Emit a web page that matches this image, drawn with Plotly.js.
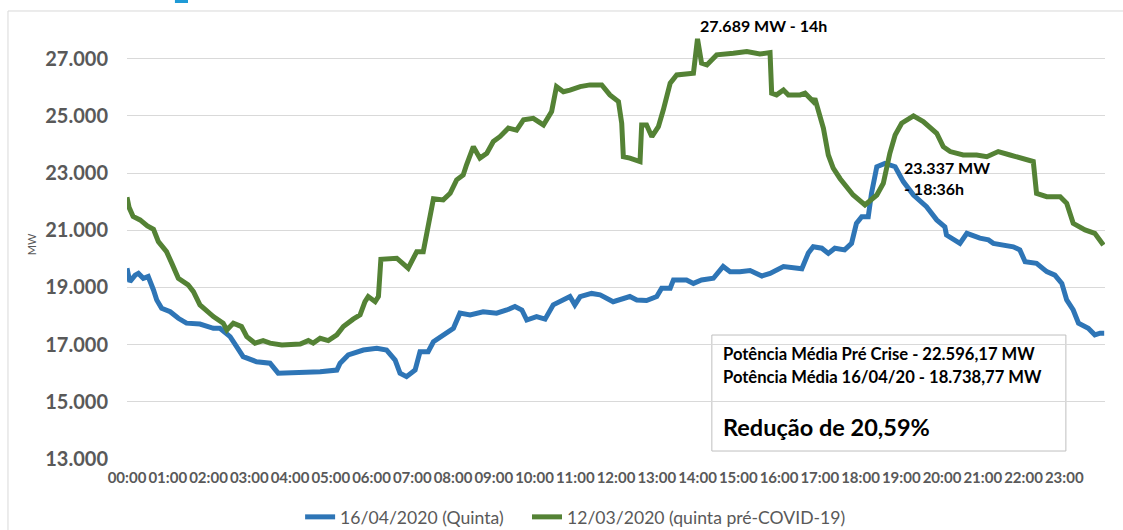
<!DOCTYPE html>
<html><head><meta charset="utf-8">
<script src="https://cdn.plot.ly/plotly-3.0.1.min.js"></script>
<style>html,body{margin:0;padding:0;background:#fff;}#chart{width:1123px;height:530px;}</style>
</head><body><div id="chart"></div>
<script>
// 16/04/2020 (Quinta) — hours of day and MW
const hoursApr16 = [0.00,0.07,0.20,0.28,0.40,0.52,0.65,0.73,0.85,1.06,1.26,1.46,1.79,2.12,2.28,2.53,2.69,2.85,3.18,3.51,3.71,4.08,4.41,4.74,5.15,5.23,5.43,5.80,6.13,6.37,6.58,6.70,6.86,7.07,7.19,7.39,7.52,7.80,8.01,8.17,8.42,8.74,9.07,9.32,9.52,9.69,9.81,10.05,10.26,10.46,10.71,10.87,10.99,11.12,11.40,11.61,11.93,12.10,12.34,12.51,12.75,13.00,13.12,13.33,13.41,13.73,13.90,14.10,14.39,14.63,14.80,15.04,15.29,15.58,15.78,16.11,16.43,16.56,16.72,16.84,17.05,17.21,17.37,17.61,17.78,17.90,18.03,18.19,18.27,18.40,18.60,18.85,19.05,19.30,19.62,19.87,20.07,20.11,20.44,20.61,20.93,21.14,21.26,21.75,21.91,22.04,22.32,22.57,22.77,22.94,23.06,23.22,23.35,23.59,23.75,23.88,23.98];
const mwApr16 = [19670,19200,19430,19490,19320,19380,18910,18560,18270,18150,17920,17750,17720,17570,17570,17280,16930,16580,16400,16350,16000,16020,16000,16050,16110,16350,16640,16810,16870,16810,16460,16000,15880,16110,16750,16750,17100,17340,17570,18100,18040,18150,18100,18210,18330,18210,17860,17980,17890,18390,18590,18680,18390,18680,18790,18740,18500,18560,18680,18560,18540,18680,18970,18970,19260,19260,19140,19260,19320,19730,19550,19550,19590,19400,19490,19730,19700,19650,20200,20420,20370,20190,20370,20310,20540,21240,21470,21470,22290,23220,23337,23220,22700,22230,21820,21360,21120,20830,20540,20890,20720,20660,20540,20420,20310,19900,19840,19550,19430,19140,18560,18210,17750,17570,17340,17400,17400];

// 12/03/2020 (quinta pré-COVID-19) — hours of day and MW
const hoursMar12 = [0.00,0.05,0.15,0.32,0.50,0.65,0.77,0.97,1.10,1.26,1.50,1.63,1.79,2.12,2.36,2.45,2.61,2.81,2.94,3.14,3.34,3.51,3.80,4.25,4.45,4.57,4.74,4.94,5.15,5.31,5.55,5.72,5.84,5.92,6.09,6.17,6.23,6.62,6.90,7.11,7.27,7.39,7.52,7.76,7.93,8.09,8.25,8.33,8.50,8.66,8.83,8.99,9.15,9.36,9.56,9.73,9.97,10.22,10.42,10.54,10.71,10.87,11.12,11.36,11.65,11.85,12.06,12.14,12.18,12.34,12.59,12.63,12.75,12.88,13.04,13.16,13.33,13.49,13.90,14.00,14.10,14.23,14.47,14.88,15.21,15.53,15.78,15.82,15.94,16.11,16.23,16.52,16.64,16.84,16.88,17.09,17.21,17.33,17.50,17.82,18.11,18.40,18.56,18.72,18.85,19.01,19.30,19.54,19.87,20.03,20.20,20.52,20.85,21.10,21.38,21.67,21.91,22.24,22.32,22.57,22.90,23.06,23.22,23.51,23.75,23.96];
const mwMar12 = [22150,21800,21480,21360,21150,21030,20600,20250,19840,19320,19090,18850,18390,17980,17750,17510,17750,17630,17280,17050,17140,17050,16990,17020,17140,17050,17220,17140,17340,17630,17890,18040,18500,18680,18500,18680,19980,20020,19670,20250,20250,21240,22100,22060,22290,22760,22930,23280,23920,23520,23690,24100,24270,24570,24500,24860,24910,24680,25150,26020,25840,25900,26020,26080,26080,25730,25500,24740,23570,23520,23400,24680,24680,24270,24620,25200,26140,26430,26490,27689,26840,26780,27130,27190,27250,27160,27210,25790,25730,25900,25730,25730,25790,25500,25610,24560,23630,23170,22800,22230,21880,22230,22640,23690,24330,24740,25000,24800,24390,23920,23750,23630,23630,23570,23750,23630,23520,23400,22290,22170,22170,21940,21240,21010,20890,20480];

const seriesNames = ['16/04/2020 (Quinta)', '12/03/2020 (quinta pré-COVID-19)'];
const xTickVals = [0,1,2,3,4,5,6,7,8,9,10,11,12,13,14,15,16,17,18,19,20,21,22,23];
const xTickText = ['00:00','01:00','02:00','03:00','04:00','05:00','06:00','07:00','08:00','09:00','10:00','11:00','12:00','13:00','14:00','15:00','16:00','17:00','18:00','19:00','20:00','21:00','22:00','23:00'];
const yTickVals = [13000,15000,17000,19000,21000,23000,25000,27000];
const yTickText = ['13.000','15.000','17.000','19.000','21.000','23.000','25.000','27.000'];
const peakPre = {hour: 14, mw: 27689, label: '27.689 MW - 14h'};
const peakApr = {hour: 18.6, mw: 23337, label: '23.337 MW<br>- 18:36h'};
const boxLines = ['Potência Média Pré Crise - 22.596,17 MW', 'Potência Média 16/04/20 - 18.738,77 MW', 'Redução de 20,59%'];

const FONT = 'Lato, "Open Sans", sans-serif';
const GREY = '#595959';

const traces = [
  {x: hoursApr16, y: mwApr16, name: seriesNames[0], type: 'scatter', mode: 'lines',
   line: {color: '#2e75b6', width: 5}, legend: 'legend'},
  {x: hoursMar12, y: mwMar12, name: seriesNames[1], type: 'scatter', mode: 'lines',
   line: {color: '#548235', width: 5}, legend: 'legend2'}
];

const legendFont = {family: FONT, size: 17.6, color: GREY};

const layout = {
  width: 1123, height: 530,
  margin: {l: 127, r: 18, t: 30, b: 71, autoexpand: false},
  paper_bgcolor: '#ffffff', plot_bgcolor: '#ffffff',
  font: {family: FONT, color: GREY},
  showlegend: true,
  legend: {orientation: 'h', x: 0.177, xanchor: 'left', y: -0.135, yanchor: 'middle',
           font: legendFont, bgcolor: 'rgba(0,0,0,0)'},
  legend2: {orientation: 'h', x: 0.409, xanchor: 'left', y: -0.135, yanchor: 'middle',
           font: legendFont, bgcolor: 'rgba(0,0,0,0)'},
  xaxis: {range: [0, 24], tickvals: xTickVals, ticktext: xTickText, showgrid: false,
          zeroline: false, showline: false, ticks: '', ticklabelstandoff: 8,
          tickfont: {family: FONT, size: 15, color: GREY, weight: 'bold'}, tickangle: 0, automargin: false},
  yaxis: {range: [13000, 28000], tickvals: yTickVals, ticktext: yTickText, showgrid: true,
          gridcolor: '#d9d9d9', gridwidth: 1, zeroline: false, showline: false, ticks: '',
          ticklabelstandoff: 18, automargin: false,
          tickfont: {family: FONT, size: 20, color: GREY, weight: 'bold'},
          title: {text: 'MW', standoff: 6, font: {family: FONT, size: 11, color: GREY}}},
  shapes: [
    {type: 'rect', xref: 'paper', yref: 'paper', x0: -0.1217, x1: 1.05, y0: -0.3, y1: 1.0443,
     line: {color: '#d9d9d9', width: 1}, fillcolor: 'rgba(0,0,0,0)', layer: 'below'},
    {type: 'rect', xref: 'paper', yref: 'paper', x0: 0.049, x1: 0.0624, y0: 1.063, y1: 1.08,
     line: {width: 0}, fillcolor: '#1f9ad6', layer: 'below'},
    {type: 'rect', xref: 'paper', yref: 'paper', x0: 0.598, x1: 0.960, y0: 0.0186, y1: 0.289,
     line: {color: '#bfbfbf', width: 1}, fillcolor: '#ffffff', layer: 'between'}
  ],
  annotations: [
    {x: peakPre.hour, y: peakPre.mw, xref: 'x', yref: 'y', text: peakPre.label, showarrow: false,
     xanchor: 'left', yanchor: 'bottom', yshift: 2,
     font: {family: FONT, size: 16, color: '#000', weight: 'bold'}},
    {x: peakApr.hour, y: peakApr.mw, xref: 'x', yref: 'y', text: peakApr.label, showarrow: false,
     xanchor: 'left', yanchor: 'middle', align: 'left', xshift: 17, yshift: -15,
     font: {family: FONT, size: 16, color: '#000', weight: 'bold'}},
    {x: 0.607, y: 0.245, xref: 'paper', yref: 'paper', text: boxLines[0], showarrow: false,
     xanchor: 'left', yanchor: 'middle', font: {family: FONT, size: 16.6, color: '#000', weight: 'bold'}},
    {x: 0.607, y: 0.191, xref: 'paper', yref: 'paper', text: boxLines[1], showarrow: false,
     xanchor: 'left', yanchor: 'middle', font: {family: FONT, size: 16.6, color: '#000', weight: 'bold'}},
    {x: 0.607, y: 0.075, xref: 'paper', yref: 'paper', text: boxLines[2], showarrow: false,
     xanchor: 'left', yanchor: 'middle', font: {family: FONT, size: 23.5, color: '#000', weight: 'bold'}}
  ]
};

Plotly.newPlot('chart', traces, layout, {staticPlot: true, displayModeBar: false});
</script>
</body></html>
